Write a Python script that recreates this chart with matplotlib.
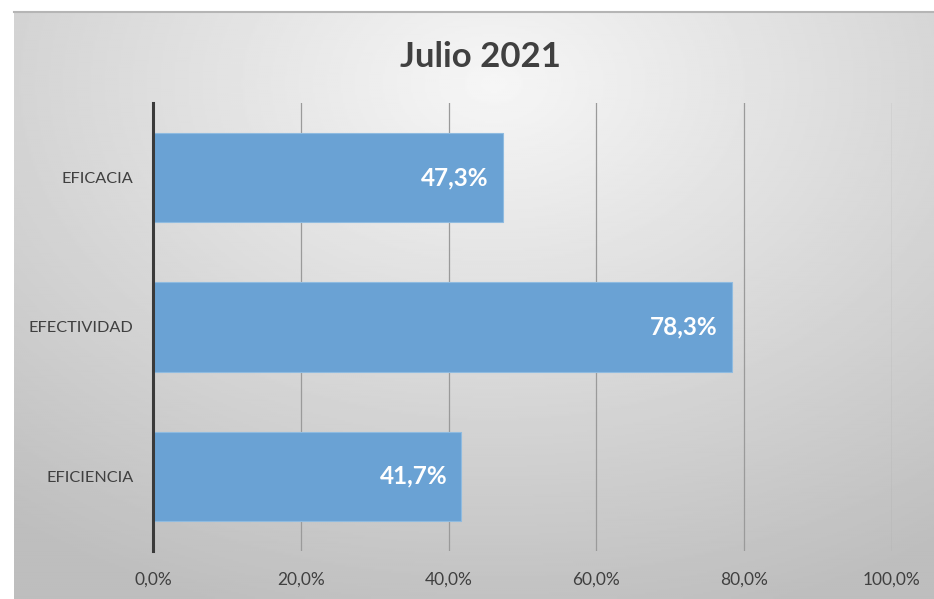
import numpy as np
import matplotlib
matplotlib.use("Agg")
import matplotlib.pyplot as plt
from matplotlib.ticker import FuncFormatter

categories = ["EFICACIA", "EFECTIVIDAD", "EFICIENCIA"]
values = [47.3, 78.3, 41.7]
title = "Julio 2021"

plt.rcParams['font.family'] = ['Lato', 'DejaVu Sans']
text_color = "#404040"
bar_color = "#6aa2d4"

fig = plt.figure(figsize=(9.34, 5.99), dpi=100)
fig.patch.set_facecolor("white")

# radial grey background of the chart box
bg = fig.add_axes([14 / 934, 0, 1 - 14 / 934, 1 - 12 / 599])
h, w = 300, 460
yy, xx = np.mgrid[0:h, 0:w]
cx, cy = w * 0.52, h * 0.12
r = np.sqrt(((xx - cx) / w) ** 2 + ((yy - cy) / h * 0.9) ** 2)
g = 0.965 - 0.22 * np.clip(r / 0.85, 0, 1)
bg.imshow(g, cmap="gray", vmin=0, vmax=1, aspect="auto", interpolation="bilinear")
bg.set_axis_off()
fig.add_artist(plt.Line2D([14 / 934, 1], [1 - 12 / 599, 1 - 12 / 599],
                          transform=fig.transFigure, color="#b5b5b5", lw=1.5))

ax = fig.add_axes([153 / 934, 1 - 551 / 599, 739 / 934, 448 / 599])
ax.patch.set_alpha(0)
y = np.arange(len(categories))
bars = ax.barh(y, values, height=0.6, color=bar_color, edgecolor="#8fbbe0",
               linewidth=0.8, zorder=3)
ax.set_xlim(0, 100)
ax.set_ylim(len(categories) - 0.5, -0.5)
ax.set_xticks(np.arange(0, 101, 20))
ax.xaxis.set_major_formatter(FuncFormatter(lambda v, p: f"{v:.1f}".replace(".", ",") + "%"))
ax.set_yticks(y)
ax.set_yticklabels(categories)
ax.tick_params(axis="both", length=0, colors=text_color)
ax.tick_params(axis="x", pad=15, labelsize=12.5)
ax.tick_params(axis="y", pad=14, labelsize=11.7)
ax.grid(axis="x", color="#9a9a9a", linewidth=0.9, zorder=1)
for s in ["top", "right", "bottom"]:
    ax.spines[s].set_visible(False)
ax.spines["left"].set_color("#3a3a3a")
ax.spines["left"].set_linewidth(2.2)
ax.spines["left"].set_zorder(4)

for b, v in zip(bars, values):
    ax.annotate(f"{v:.1f}".replace(".", ",") + "%",
                xy=(b.get_width(), b.get_y() + b.get_height() / 2),
                xytext=(-10, 0), textcoords="offset points",
                ha="right", va="center", color="white",
                fontsize=17.5, fontweight="bold", zorder=5)

fig.text(480 / 934, 1 - 57 / 599, title, ha="center", va="center",
         fontsize=25, fontweight="bold", color=text_color)

fig.savefig("out.png", dpi=100)
